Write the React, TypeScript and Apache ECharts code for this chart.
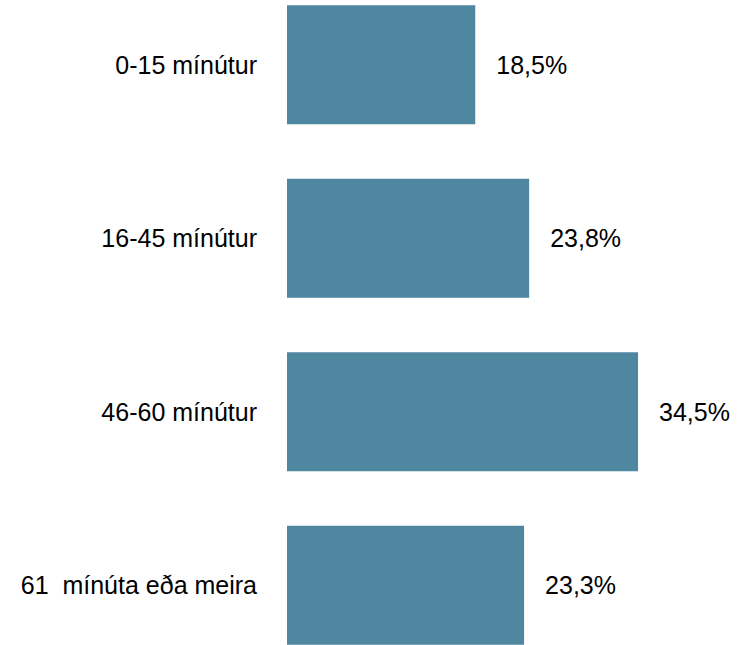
import React, { useEffect, useRef } from "react";
import * as echarts from "echarts";

const categories = ["0-15 mínútur", "16-45 mínútur", "46-60 mínútur", "61  mínúta eða meira"];
const values = [18.5, 23.8, 34.5, 23.3];

export default function App() {
  const ref = useRef<HTMLDivElement>(null);
  useEffect(() => {
    if (!ref.current) return;
    const chart = echarts.init(ref.current, null, { renderer: "svg" });
    chart.setOption({
      animation: false,
      grid: { left: 287, top: 0, width: 407, bottom: 0, containLabel: false },
      xAxis: {
        type: "value",
        min: 0,
        max: 40,
        show: false,
      },
      yAxis: {
        type: "category",
        data: categories,
        inverse: true,
        axisLine: { show: false },
        axisTick: { show: false },
        splitLine: { show: false },
        axisLabel: {
          margin: 30,
          color: "#000000",
          fontSize: 25,
          fontFamily: "'Liberation Sans', Arial, sans-serif",
        },
      },
      series: [
        {
          type: "bar",
          data: values,
          barWidth: 119,
          itemStyle: { color: "#4f87a0" },
          label: {
            show: true,
            position: "right",
            distance: 21,
            color: "#000000",
            fontSize: 25,
            fontFamily: "'Liberation Sans', Arial, sans-serif",
            formatter: (p: any) => Number(p.value).toFixed(1).replace(".", ",") + "%",
          },
        },
      ],
    });
    return () => chart.dispose();
  }, []);
  return (
    <div
      style={{ position: "absolute", left: 0, top: 0, width: 738, height: 645, overflow: "hidden", background: "#ffffff" }}
    >
      <div ref={ref} style={{ position: "absolute", left: 0, top: -22, width: 738, height: 694 }} />
    </div>
  );
}
